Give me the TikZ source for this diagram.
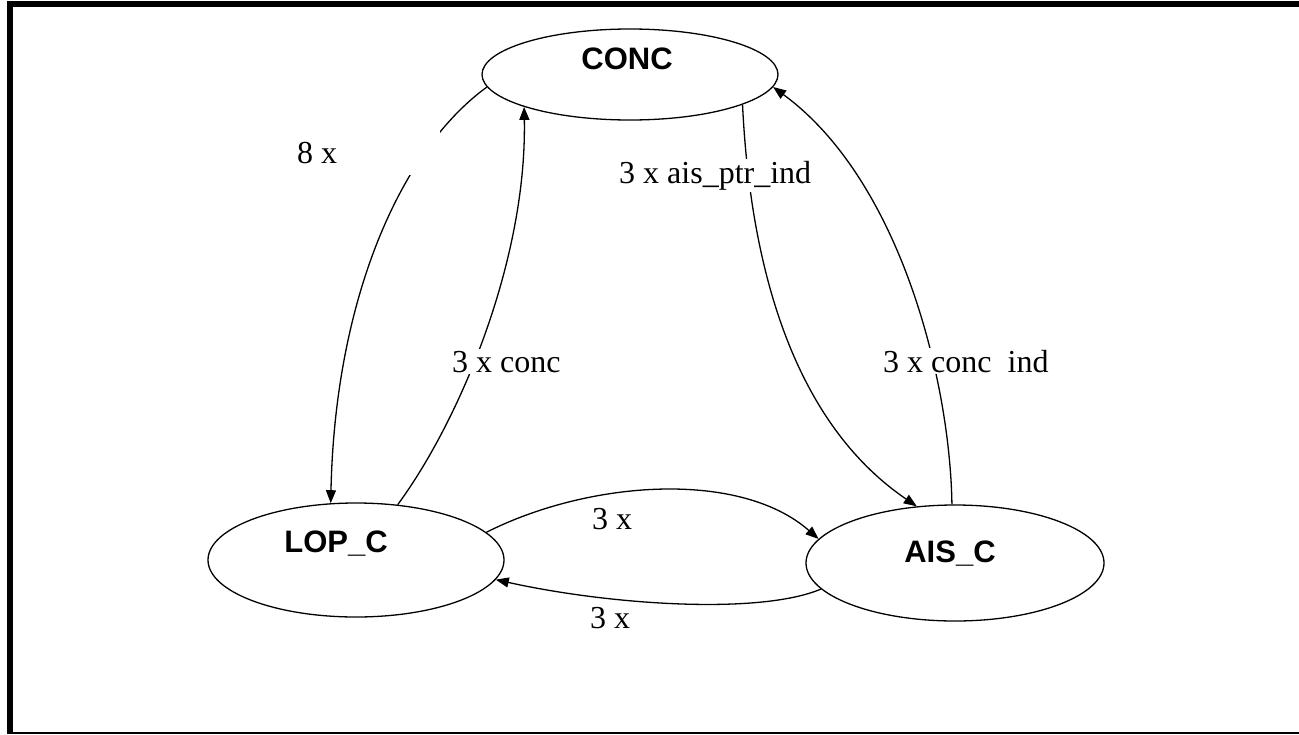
\documentclass[tikz,border=0pt]{standalone}
\usepackage{fontspec}
\setmainfont{Liberation Serif}
\setsansfont{Liberation Sans}
\usetikzlibrary{shapes.geometric,arrows.meta}
\begin{document}
\begin{tikzpicture}[x=1pt,y=-1pt,
  ell/.style={draw, ellipse, line width=1.3pt, inner sep=0pt},
  ntext/.style={font=\sffamily\bfseries\fontsize{31}{36}\selectfont, inner sep=0pt, anchor=base},
  elab/.style={font=\fontsize{32}{38}\selectfont, inner sep=0pt, anchor=base west},
  elabw/.style={elab, fill=white, inner sep=2pt},
  conn/.style={line width=1.3pt, -{Triangle[length=13pt,width=10pt]}}]
\useasboundingbox (0,0) rectangle (1299,734);
% frame
\fill[black] (7,1) rectangle (1299,7);
\fill[black] (7,1) rectangle (13,734);
\draw[line width=1.3pt] (13,733) -- (1299,733);
% nodes
\node[ell, minimum width=296pt, minimum height=91pt] (conc) at (630,74.5) {};
\node[ell, minimum width=296pt, minimum height=114pt] (lop) at (356,560) {};
\node[ell, minimum width=298pt, minimum height=116pt] (ais) at (955,563) {};
\node[ntext] (concT) at (627,69) {CONC};
\node[ntext] (lopT) at (336,552) {LOP\_C};
\node[ntext] (aisT) at (950,562) {AIS\_C};
% connectors
\draw[conn] (conc.185.3) .. controls (400,150) and (335,300) .. (lop.114.9);
\draw[conn] (lop.53.2) .. controls (460,420) and (527,260) .. (conc.197.7);
\draw[conn] (conc.345.5) .. controls (750,260) and (790,420) .. (ais.124.5);
\draw[conn] (ais.93) .. controls (950,380) and (900,180) .. (conc.355.5);
\draw[conn] (lop.12) .. controls (590,480) and (740,470) .. (ais.170.5);
\draw[conn] (ais.191.5) .. controls (760,615) and (610,605) .. (lop.352.3);
% labels
\node[fill=white, inner sep=0pt, minimum width=143pt, minimum height=44pt, anchor=west,
      font=\fontsize{32}{38}\selectfont] (l8) at (297,153) {\makebox[143pt][l]{8 x}};
\node[elabw] (l2) at (617,183) {3 x ais\_ptr\_ind};
\node[elabw] (l3) at (450,372) {3 x conc};
\node[elabw] (l4) at (881,372) {3 x conc~ ind};
\node[elab] (l5) at (592,529) {3 x};
\node[elab] (l6) at (590,628) {3 x};
\end{tikzpicture}
\end{document}
